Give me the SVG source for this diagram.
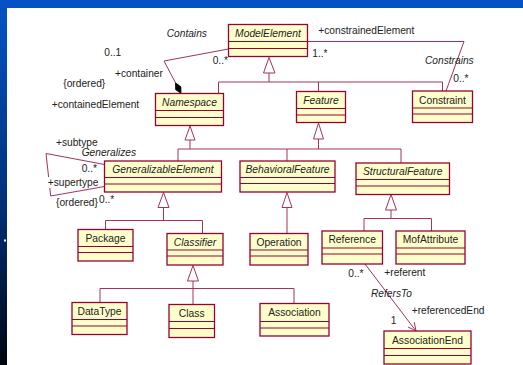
<svg xmlns="http://www.w3.org/2000/svg" width="523" height="365" viewBox="0 0 523 365">
  <defs>
    <linearGradient id="frame" x1="0" y1="0" x2="0" y2="1">
      <stop offset="0" stop-color="#0553C6"/>
      <stop offset="0.55" stop-color="#02317A"/>
      <stop offset="1" stop-color="#000510"/>
    </linearGradient>
    <style>
      .box rect { fill: #FFFFCC; stroke: #990033; stroke-width: 1.3; }
      .box line { stroke: #990033; stroke-width: 1.1; }
      .box text { font-family: "Liberation Sans", Arial, sans-serif; font-size: 10.3px; fill: #222; text-anchor: middle; }
      .box text.abs { font-style: italic; }
      .conn { fill: none; stroke: #A3335E; stroke-width: 1; }
      .tri { fill: #FFFFFF; stroke: #A3335E; stroke-width: 1; }
      .lbl { font-family: "Liberation Sans", Arial, sans-serif; font-size: 10.2px; fill: #222; }
      .it { font-style: italic; }
    </style>
  </defs>

  <!-- slide frame -->
  <rect x="0" y="0" width="523" height="365" fill="url(#frame)"/>
  <rect x="7" y="8" width="516" height="357" fill="#FFFFFF"/>
  <rect x="4" y="239.5" width="2" height="2" fill="#FFFFFF"/>

  <!-- connectors -->
  <g id="connectors">
    <!-- generalizations -->
    <polygon class="tri" points="269,57.5 263.5,73 275,73"/>
    <polyline class="conn" points="269,73 269,82"/>
    <polyline class="conn" points="218.5,93.5 218.5,82 442.5,82 442.5,91"/>
    <polyline class="conn" points="318.5,82 318.5,91.5"/>

    <polygon class="tri" points="190,126 185,140 195,140"/>
    <polyline class="conn" points="190,140 190,149"/>
    <polygon class="tri" points="318.5,123 313.5,139 323.5,139"/>
    <polyline class="conn" points="318.5,139 318.5,149"/>
    <polyline class="conn" points="178,161 178,149 401,149 401,163"/>
    <polyline class="conn" points="287,149 287,161"/>

    <polygon class="tri" points="163.5,192.5 158,207.5 169,207.5"/>
    <polyline class="conn" points="163.5,207.5 163.5,220.5"/>
    <polyline class="conn" points="105.5,229.5 105.5,220.5 202.5,220.5 202.5,233.5"/>

    <polygon class="tri" points="287,192.5 282,207.5 292,207.5"/>
    <polyline class="conn" points="287,207.5 287,233.5"/>

    <polygon class="tri" points="391,194.5 385.5,210 396.5,210"/>
    <polyline class="conn" points="391,210 391,218.5"/>
    <polyline class="conn" points="364,231 364,218.5 431.5,218.5 431.5,231"/>

    <polygon class="tri" points="193,265.5 187.5,281 198.5,281"/>
    <polyline class="conn" points="193,281 193,304.5"/>
    <polyline class="conn" points="100,302.5 100,288.5 294,288.5 294,303.5"/>

    <!-- Contains (composition) -->
    <polyline class="conn" points="228.5,49 164,61 175.5,82.8"/>
    <polygon points="175.5,82.8 180.9,86.8 181,93.5 175.6,89.6" fill="#000000" stroke="#000000" stroke-width="0.8"/>

    <!-- Constrains -->
    <polyline class="conn" points="308,41.5 464,41.5 446,91"/>

    <!-- Generalizes (self association) -->
    <polyline class="conn" points="104.5,164.5 46,153.5 48.6,177"/>
    <polyline class="conn" points="49.8,188 50.7,196 104.5,186.5"/>

    <!-- RefersTo (navigable) -->
    <line class="conn" x1="365" y1="264" x2="416" y2="331"/>
    <polyline class="conn" points="408,327 416,331 414.3,322.2"/>
  </g>

  <!-- association labels -->
  <g id="labels">
    <text class="lbl it" x="166.7" y="36.7">Contains</text>
    <text class="lbl" x="104.3" y="56">0..1</text>
    <text class="lbl" x="115" y="77.3">+container</text>
    <text class="lbl" x="63.3" y="87.3">{ordered}</text>
    <text class="lbl" x="51.7" y="108.3">+containedElement</text>
    <text class="lbl" x="212.7" y="64">0..*</text>
    <text class="lbl" x="312.3" y="56.7">1..*</text>
    <text class="lbl" x="318.3" y="34">+constrainedElement</text>
    <text class="lbl it" x="425" y="64">Constrains</text>
    <text class="lbl" x="453.3" y="81.7">0..*</text>
    <text class="lbl" x="56" y="146">+subtype</text>
    <text class="lbl it" x="81.7" y="156">Generalizes</text>
    <text class="lbl" x="81.7" y="172.3">0..*</text>
    <text class="lbl" x="47.7" y="185.7">+supertype</text>
    <text class="lbl" x="56" y="206">{ordered}</text>
    <text class="lbl" x="99" y="203.3">0..*</text>
    <text class="lbl" x="348.3" y="277.3">0..*</text>
    <text class="lbl" x="384.3" y="276">+referent</text>
    <text class="lbl it" x="371" y="296.7">RefersTo</text>
    <text class="lbl" x="411.7" y="314">+referencedEnd</text>
    <text class="lbl" x="390.7" y="324">1</text>
  </g>

  <!-- classes -->
  <g id="ModelElement" class="box">
    <rect x="228.5" y="24.5" width="79" height="32"/>
    <line x1="228.5" y1="41.5" x2="307.5" y2="41.5"/><line x1="228.5" y1="48.5" x2="307.5" y2="48.5"/>
    <text class="abs" x="268" y="36.7">ModelElement</text>
  </g>
  <g id="Namespace" class="box">
    <rect x="155.5" y="93.5" width="68" height="32"/>
    <line x1="155.5" y1="110.5" x2="223.5" y2="110.5"/><line x1="155.5" y1="117.5" x2="223.5" y2="117.5"/>
    <text class="abs" x="189.5" y="105.7">Namespace</text>
  </g>
  <g id="Feature" class="box">
    <rect x="296.5" y="91.5" width="49" height="31"/>
    <line x1="296.5" y1="108.5" x2="345.5" y2="108.5"/><line x1="296.5" y1="115" x2="345.5" y2="115"/>
    <text class="abs" x="321" y="103.7">Feature</text>
  </g>
  <g id="Constraint" class="box">
    <rect x="412.5" y="91" width="60" height="31.5"/>
    <line x1="412.5" y1="108" x2="472.5" y2="108"/><line x1="412.5" y1="114" x2="472.5" y2="114"/>
    <text x="442.5" y="103.7">Constraint</text>
  </g>
  <g id="GeneralizableElement" class="box">
    <rect x="104.5" y="161" width="117" height="31"/>
    <line x1="104.5" y1="177.5" x2="221.5" y2="177.5"/><line x1="104.5" y1="184" x2="221.5" y2="184"/>
    <text class="abs" x="163" y="173">GeneralizableElement</text>
  </g>
  <g id="BehavioralFeature" class="box">
    <rect x="240" y="161" width="95" height="31"/>
    <line x1="240" y1="177.5" x2="335" y2="177.5"/><line x1="240" y1="183.5" x2="335" y2="183.5"/>
    <text class="abs" x="287.5" y="173">BehavioralFeature</text>
  </g>
  <g id="StructuralFeature" class="box">
    <rect x="356" y="163" width="93.5" height="31.5"/>
    <line x1="356" y1="179.5" x2="449.5" y2="179.5"/><line x1="356" y1="186" x2="449.5" y2="186"/>
    <text class="abs" x="402.7" y="175">StructuralFeature</text>
  </g>
  <g id="Package" class="box">
    <rect x="78" y="229.5" width="55" height="31.5"/>
    <line x1="78" y1="246.5" x2="133" y2="246.5"/><line x1="78" y1="252.5" x2="133" y2="252.5"/>
    <text x="105.5" y="241.7">Package</text>
  </g>
  <g id="Classifier" class="box">
    <rect x="167" y="233.5" width="56" height="31.5"/>
    <line x1="167" y1="250" x2="223" y2="250"/><line x1="167" y1="256" x2="223" y2="256"/>
    <text class="abs" x="195" y="245.5">Classifier</text>
  </g>
  <g id="Operation" class="box">
    <rect x="250" y="233.5" width="58" height="31.5"/>
    <line x1="250" y1="250" x2="308" y2="250"/><line x1="250" y1="256" x2="308" y2="256"/>
    <text x="279" y="245.5">Operation</text>
  </g>
  <g id="Reference" class="box">
    <rect x="322" y="231" width="60.5" height="33"/>
    <line x1="322" y1="248" x2="382.5" y2="248"/><line x1="322" y1="254" x2="382.5" y2="254"/>
    <text x="352.2" y="243.2">Reference</text>
  </g>
  <g id="MofAttribute" class="box">
    <rect x="396" y="231" width="69" height="33"/>
    <line x1="396" y1="248" x2="465" y2="248"/><line x1="396" y1="254" x2="465" y2="254"/>
    <text x="430.5" y="243.2">MofAttribute</text>
  </g>
  <g id="DataType" class="box">
    <rect x="72" y="302.5" width="55" height="32"/>
    <line x1="72" y1="319.5" x2="127" y2="319.5"/><line x1="72" y1="326" x2="127" y2="326"/>
    <text x="99.5" y="314.7">DataType</text>
  </g>
  <g id="Class" class="box">
    <rect x="169" y="304.5" width="45.5" height="33"/>
    <line x1="169" y1="321.5" x2="214.5" y2="321.5"/><line x1="169" y1="328.5" x2="214.5" y2="328.5"/>
    <text x="191.7" y="316.7">Class</text>
  </g>
  <g id="Association" class="box">
    <rect x="260" y="303.5" width="69" height="32.5"/>
    <line x1="260" y1="321.5" x2="329" y2="321.5"/><line x1="260" y1="328" x2="329" y2="328"/>
    <text x="294.5" y="316.2">Association</text>
  </g>
  <g id="AssociationEnd" class="box">
    <rect x="384" y="331" width="87" height="33"/>
    <line x1="384" y1="348.5" x2="471" y2="348.5"/><line x1="384" y1="355.5" x2="471" y2="355.5"/>
    <text x="427.5" y="343.5">AssociationEnd</text>
  </g>
</svg>
